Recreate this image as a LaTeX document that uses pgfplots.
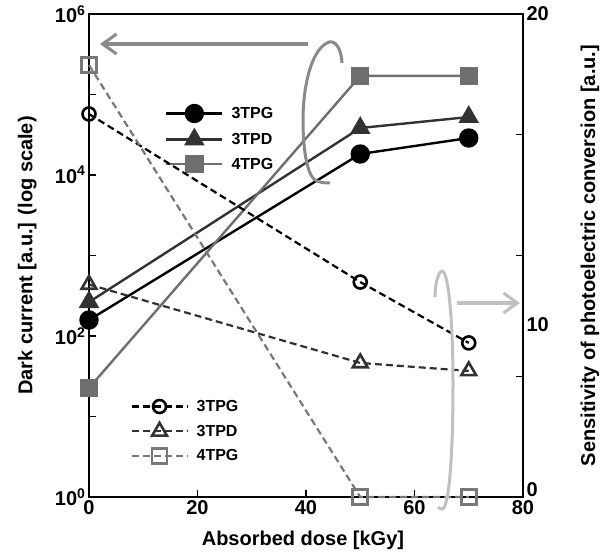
\documentclass[border=0pt]{standalone}
\usepackage{fontspec}
\setmainfont{Liberation Sans}
\usepackage{pgfplots}
\pgfplotsset{compat=1.18}
\usetikzlibrary{arrows.meta}
\definecolor{cA}{RGB}{0,0,0}
\definecolor{cB}{RGB}{50,50,50}
\definecolor{cC}{RGB}{110,110,110}
\definecolor{cCd}{RGB}{120,120,120}
\definecolor{arrL}{RGB}{138,138,138}
\definecolor{arrR}{RGB}{192,192,192}

\pgfplotsset{
  base/.style={
    width=434pt, height=483pt, scale only axis,
    at={(0pt,0pt)}, anchor=south west,
    xmin=0, xmax=80,
    tick align=inside, major tick length=7pt, minor tick length=7pt,
    tick style={line width=1.4pt, black},
    axis line style={line width=2pt},
    ticklabel style={font=\fontsize{20}{22}\selectfont\bfseries},
    label style={font=\fontsize{20}{24}\selectfont\bfseries},
    /pgf/number format/assume math mode=true,
    legend style={draw=none, fill=none, font=\fontsize{16}{18}\selectfont\bfseries,
      row sep=8pt, column sep=6pt, inner sep=0pt},
    legend cell align=left,
    legend image code/.code={\draw[mark repeat=2,mark phase=2,##1]
      plot coordinates {(0pt,0pt)(28pt,0pt)(56pt,0pt)};},
  },
  dark/.style={line width=2.4pt, mark options={solid}},
  sens/.style={line width=2.2pt, dash pattern=on 7pt off 4pt,
    mark options={solid, fill=white, line width=2.6pt}},
}

\begin{document}
\begin{tikzpicture}
\begin{axis}[base,
  ymode=log, ymin=1, ymax=1e6,
  ytick={1,100,10000,1000000},
  yticklabels={10\textsuperscript{0},10\textsuperscript{2},10\textsuperscript{4},10\textsuperscript{6}},
  minor ytick={10,1000,100000},
  xtick={0,20,40,60,80},
  xtick pos=lower, ytick pos=left,
  xlabel={Absorbed dose [kGy]},
  ylabel={Dark current [a.u.] (log scale)},
  xlabel style={at={(axis description cs:0.493,-0.089)}, anchor=center},
  ylabel style={at={(axis description cs:-0.142,0.5)}, anchor=center},
  legend style={at={(axis description cs:0.175,0.812)}, anchor=north west},
  clip=false]
\addplot[dark, cA, mark=*, mark size=8.5pt] coordinates {(0,158)(50,18240)(70,28800)};
\addlegendentry{3TPG}
\addplot[dark, cB, mark=triangle*, mark size=9.5pt] coordinates {(0,264)(50,38360)(70,52500)};
\addlegendentry{3TPD}
\addplot[dark, cC, mark=square*, mark size=8pt] coordinates {(0,22.6)(50,170000)(70,170000)};
\addlegendentry{4TPG}
\end{axis}

\begin{axis}[base,
  axis x line=none, axis y line*=right,
  ymin=0, ymax=20,
  ytick={0,5,10,15,20}, yticklabels={,,,,20},
  extra y ticks={0.3,7.12}, extra y tick labels={0,10},
  extra y tick style={major tick length=0pt},
  ylabel={Sensitivity of photoelectric conversion [a.u.]},
  ylabel style={at={(axis description cs:1.154,0.5)}, anchor=center},
  legend style={at={(axis description cs:0.095,0.205)}, anchor=north west},
  clip=false]
\addplot[sens, cA, mark=o, mark size=6.5pt] coordinates {(0,15.86)(50,8.9)(70,6.38)};
\addlegendentry{3TPG}
\addplot[sens, cB, mark=triangle, mark size=8.5pt] coordinates {(0,8.8)(50,5.55)(70,5.22)};
\addlegendentry{3TPD}
\addplot[sens, cCd, mark=square, mark size=7.5pt] coordinates {(0,17.89)(50,0)(70,0)};
\addlegendentry{4TPG}
\end{axis}

% left arrow and loop
\draw[arrL, line width=3.5pt, -{Straight Barb[length=14pt,width=20pt,line width=3pt]}]
  (219pt,453pt) -- (11pt,453pt);
\draw[arrL, line width=3pt]
  (253pt,434pt) .. controls (252pt,452pt) and (244pt,458pt) .. (238pt,454pt)
  .. controls (222pt,446pt) and (214pt,410pt) .. (214pt,377pt)
  .. controls (214pt,340pt) and (220pt,318pt) .. (228pt,316pt)
  .. controls (233pt,314pt) and (238pt,314pt) .. (241pt,314pt);
% right arrow and loop
\draw[arrR, line width=3.5pt, -{Straight Barb[length=14pt,width=20pt,line width=3pt]}]
  (368pt,194pt) -- (431pt,194pt);
\draw[arrR, line width=3pt]
  (346pt,200pt) .. controls (346pt,215pt) and (350pt,226pt) .. (353pt,226pt)
  .. controls (360pt,226pt) and (364pt,170pt) .. (364pt,114pt)
  .. controls (364pt,40pt) and (360pt,-12pt) .. (353pt,-12pt)
  .. controls (351pt,-12pt) and (350pt,-11pt) .. (349pt,-10pt);

\pgfresetboundingbox
\path[use as bounding box] (-89pt,-57pt) rectangle (513pt,497pt);
\end{tikzpicture}
\end{document}
